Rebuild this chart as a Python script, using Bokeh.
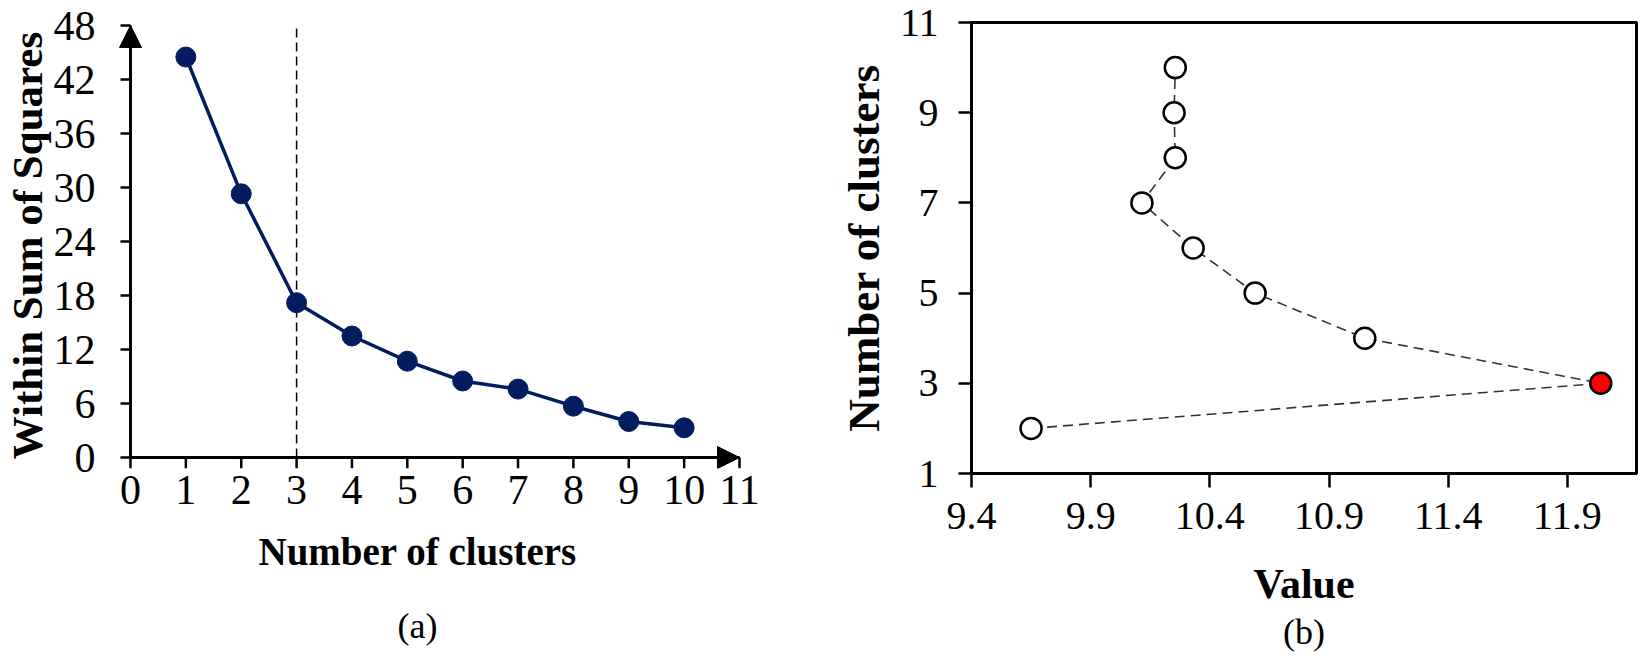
from bokeh.plotting import figure
from bokeh.layouts import row
from bokeh.models import Arrow, NormalHead, FixedTicker, Title, Range1d, ColumnDataSource
from bokeh.embed import file_html
from bokeh.resources import INLINE

# ---------------- data ----------------
# (a) elbow curve
clusters_a = [1, 2, 3, 4, 5, 6, 7, 8, 9, 10]
wss_a = [44.5, 29.3, 17.2, 13.5, 10.7, 8.5, 7.6, 5.7, 4.0, 3.3]
elbow_k = 3
x_ticks_a = [0, 1, 2, 3, 4, 5, 6, 7, 8, 9, 10, 11]
y_ticks_a = [0, 6, 12, 18, 24, 30, 36, 42, 48]

# (b) value per number of clusters
clusters_b = [2, 3, 4, 5, 6, 7, 8, 9, 10]
value_b = [9.65, 12.04, 11.05, 10.59, 10.33, 10.115, 10.255, 10.25, 10.255]
best_k = 3
x_ticks_b = [9.4, 9.9, 10.4, 10.9, 11.4, 11.9]
x_tick_labels_b = ["9.4", "9.9", "10.4", "10.9", "11.4", "11.9"]
y_ticks_b = [1, 3, 5, 7, 9, 11]

FONT = "Liberation Serif"
NAVY = "#031c60"


def style_axis(ax, tick_size="40px", label_size="42px"):
    ax.axis_line_width = 3
    ax.axis_line_color = "black"
    ax.major_tick_line_width = 2.5
    ax.major_tick_line_color = "black"
    ax.minor_tick_line_color = None
    ax.major_tick_in = 0
    ax.major_label_text_font = FONT
    ax.major_label_text_font_size = tick_size
    ax.major_label_text_color = "black"
    ax.axis_label_text_font = FONT
    ax.axis_label_text_font_style = "bold"
    ax.axis_label_text_font_size = label_size
    ax.axis_label_text_color = "black"


# ---------------- panel (a) ----------------
xa0, xa1 = x_ticks_a[0], x_ticks_a[-1]
ya0, ya1 = y_ticks_a[0], y_ticks_a[-1]
FW1, FH1 = 626, 446
PAD_L, PAD_R, PAD_B, PAD_T = 14, 3, 11, 3          # px of room so arrow heads are not clipped
sx = (FW1 - PAD_L - PAD_R) / (xa1 - xa0)             # px per data unit
sy = (FH1 - PAD_B - PAD_T) / (ya1 - ya0)

p1 = figure(frame_width=FW1, frame_height=FH1,
            x_range=Range1d(xa0 - PAD_L / sx, xa1 + PAD_R / sx),
            y_range=Range1d(ya0 - PAD_B / sy, ya1 + PAD_T / sy),
            output_backend="svg", toolbar_location=None,
            min_border_left=113, min_border_right=43, min_border_top=22, min_border_bottom=184)
p1.outline_line_color = None
p1.grid.visible = False
p1.background_fill_color = "white"
p1.border_fill_color = "white"

# axes drawn through the origin (lines + tick marks), labels come from the real axes
TICK_X_PX, TICK_Y_PX = 11, 10
p1.segment(x0=[xa0], y0=[ya0], x1=[xa0], y1=[ya1], line_color="black", line_width=3)
p1.segment(x0=[xa0], y0=[ya0], x1=[xa1], y1=[ya0], line_color="black", line_width=3)
p1.segment(x0=x_ticks_a, y0=[ya0 - TICK_X_PX / sy] * len(x_ticks_a),
           x1=x_ticks_a, y1=[ya0] * len(x_ticks_a), line_color="black", line_width=2.5)
p1.segment(x0=[xa0 - TICK_Y_PX / sx] * len(y_ticks_a), y0=y_ticks_a,
           x1=[xa0] * len(y_ticks_a), y1=y_ticks_a, line_color="black", line_width=2.5)

# elbow marker line
p1.segment(x0=[elbow_k], y0=[ya0], x1=[elbow_k], y1=[ya1],
           line_color="black", line_width=1.5, line_dash="9 5")
p1.line(clusters_a, wss_a, line_color=NAVY, line_width=3.5)
p1.scatter(clusters_a, wss_a, size=20, fill_color=NAVY, line_color=NAVY)

head = dict(size=22, fill_color="black", line_color="black")
p1.add_layout(Arrow(end=NormalHead(**head), x_start=xa1 - 0.4, y_start=ya0, x_end=xa1, y_end=ya0,
                    line_width=3, line_color="black"))
p1.add_layout(Arrow(end=NormalHead(**head), x_start=xa0, y_start=ya1 - 2.5, x_end=xa0, y_end=ya1,
                    line_width=3, line_color="black"))

style_axis(p1.xaxis[0], tick_size="42px", label_size="43px")
style_axis(p1.yaxis[0], tick_size="42px", label_size="43px")
for ax in (p1.xaxis[0], p1.yaxis[0]):
    ax.axis_line_color = None
    ax.major_tick_line_color = None
    ax.major_tick_out = 0

p1.xaxis.ticker = FixedTicker(ticks=x_ticks_a)
p1.xaxis.major_label_standoff = 7

p1.yaxis.ticker = FixedTicker(ticks=y_ticks_a)
p1.yaxis.major_label_standoff = 21
p1.yaxis.axis_label = "Within Sum of Squares"
p1.yaxis.axis_label_standoff = 0

p1.add_layout(Title(text="Number of clusters", align="left", offset=142, text_font=FONT,
                    text_font_size="39px", text_font_style="bold", text_color="black",
                    standoff=42), "below")
p1.add_layout(Title(text="(a)", align="left", offset=281, text_font=FONT, text_font_size="36px",
                    text_font_style="normal", text_color="black", standoff=20), "below")

# ---------------- panel (b) ----------------
p2 = figure(frame_width=665, frame_height=451,
            x_range=Range1d(9.4, 12.19), y_range=Range1d(y_ticks_b[0], y_ticks_b[-1]),
            output_backend="svg", toolbar_location=None,
            min_border_left=186, min_border_right=2, min_border_top=14, min_border_bottom=187)
p2.outline_line_color = "black"
p2.outline_line_width = 3
p2.grid.visible = False
p2.background_fill_color = "white"
p2.border_fill_color = "white"

src = ColumnDataSource(dict(x=value_b, y=clusters_b,
                            fill=["red" if k == best_k else "white" for k in clusters_b]))
p2.line("x", "y", source=src, line_color="#333333", line_width=1.6, line_dash="10 6")
p2.scatter("x", "y", source=src, size=21, fill_color="fill", line_color="black", line_width=2.5)

style_axis(p2.xaxis[0], label_size="42px")
style_axis(p2.yaxis[0], label_size="45px")

p2.xaxis.ticker = FixedTicker(ticks=x_ticks_b)
p2.xaxis.major_label_overrides = {t: s for t, s in zip(x_ticks_b, x_tick_labels_b)}
p2.xaxis.major_tick_out = 14
p2.xaxis.major_label_standoff = 15
p2.xaxis.axis_label = "Value"
p2.xaxis.axis_label_standoff = 29

p2.yaxis.ticker = FixedTicker(ticks=y_ticks_b)
p2.yaxis.major_tick_out = 13
p2.yaxis.major_label_standoff = 20
p2.yaxis.axis_label = "Number of clusters"
p2.yaxis.axis_label_standoff = 8

p2.add_layout(Title(text="(b)", align="center", text_font=FONT, text_font_size="36px",
                    text_font_style="normal", text_color="black", standoff=0), "below")

layout = row(p1, p2, spacing=0)
open("out.html", "w").write(file_html(layout, INLINE))
